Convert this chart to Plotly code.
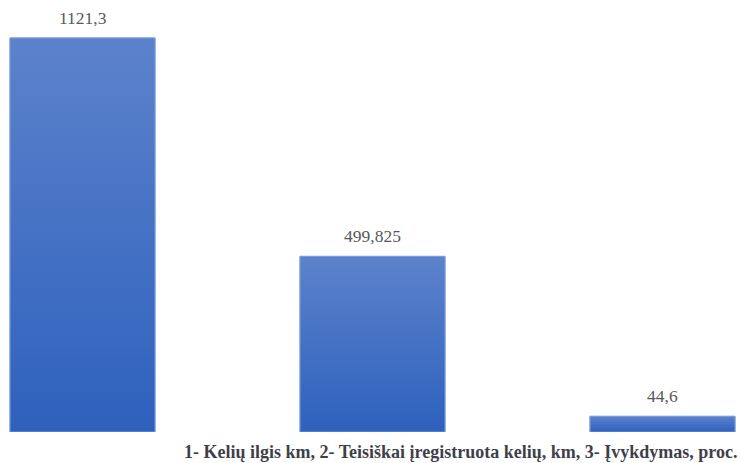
import plotly.graph_objects as go

categories = ["1", "2", "3"]
values = [1121.3, 499.825, 44.6]
value_labels = ["1121,3", "499,825", "44,6"]
caption = "1- Kelių ilgis km, 2- Teisiškai įregistruota kelių, km, 3- Įvykdymas, proc."

TOP_COLOR = "#5C82CB"
BOTTOM_COLOR = "#2E61BD"
BAR_WIDTH = 0.5

fig = go.Figure()

# base bars (solid)
fig.add_trace(go.Bar(
    x=list(range(len(categories))), y=values, width=BAR_WIDTH,
    marker=dict(color="#4571C4", line=dict(color="#7A9DDB", width=1)),
    hoverinfo="skip", showlegend=False,
))

# gradient overlay per bar
for i, v in enumerate(values):
    x0, x1 = i - BAR_WIDTH / 2, i + BAR_WIDTH / 2
    fig.add_trace(go.Scatter(
        x=[x0, x0, x1, x1, x0], y=[0, v, v, 0, 0],
        mode="lines", fill="toself",
        line=dict(color="#7A9DDB", width=1),
        fillgradient=dict(type="vertical",
                          colorscale=[[0, BOTTOM_COLOR], [1, TOP_COLOR]]),
        hoverinfo="skip", showlegend=False,
    ))

for i, (v, lab) in enumerate(zip(values, value_labels)):
    fig.add_annotation(x=i, y=v, text=lab, showarrow=False,
                       yanchor="bottom", yshift=8,
                       font=dict(family="Liberation Serif", size=17.5, color="#595959"))

fig.add_annotation(xref="paper", yref="paper", x=1, y=0, xanchor="right", yanchor="top",
                   yshift=-8, xshift=-2, text="<b>" + caption + "</b>", showarrow=False,
                   font=dict(family="Liberation Serif", size=18, color="#3F3F4A"))

fig.update_layout(
    width=741, height=463,
    margin=dict(l=0, r=0, t=0, b=31),
    paper_bgcolor="white", plot_bgcolor="white",
    xaxis=dict(range=[-0.2845, 2.2707], visible=False, fixedrange=True),
    yaxis=dict(range=[0, 1229.4], visible=False, fixedrange=True),
    bargap=0.5,
)

fig.write_html("out.html", config={"displayModeBar": False})

with open("out.html", "r", encoding="utf-8") as f:
    html = f.read()
html = html.replace("<body>", '<body style="margin:0;padding:0;overflow:hidden">', 1)
with open("out.html", "w", encoding="utf-8") as f:
    f.write(html)
